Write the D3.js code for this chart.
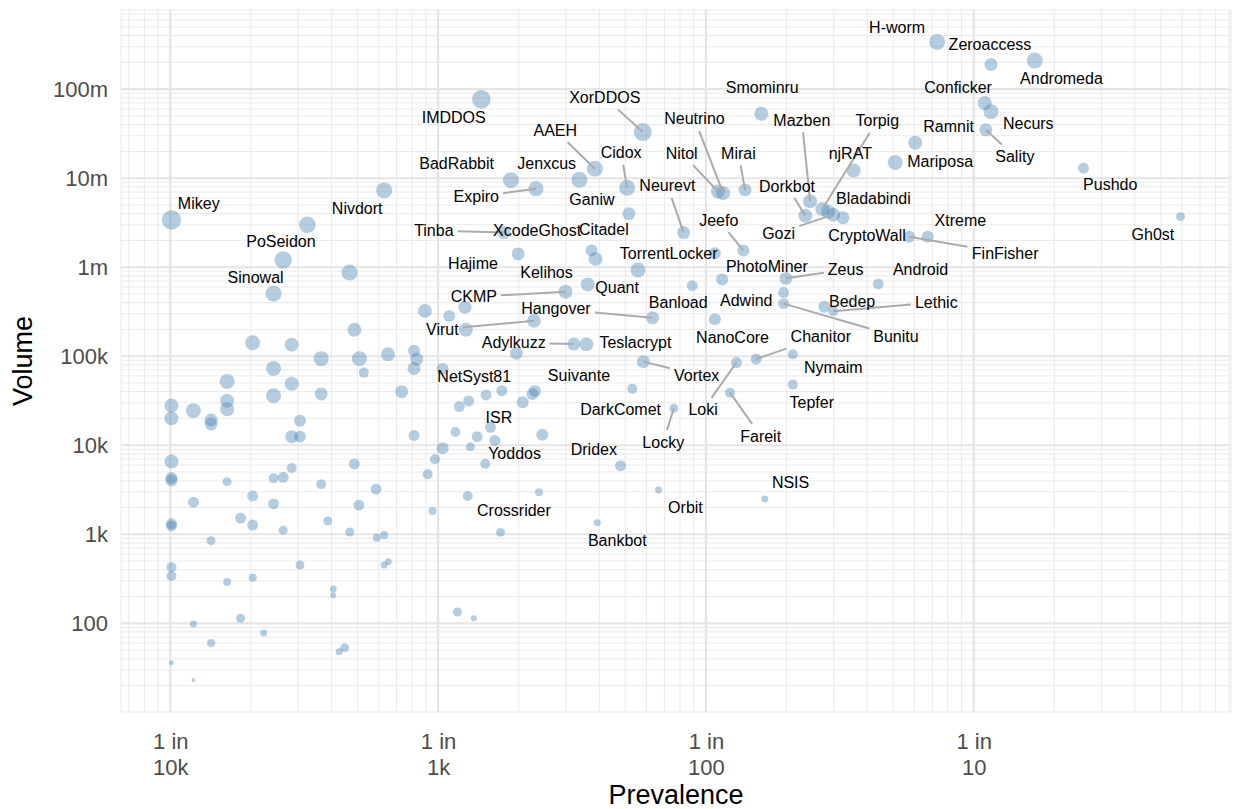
<!DOCTYPE html>
<html><head><meta charset="utf-8">
<script src="https://cdn.jsdelivr.net/npm/d3@7"></script>
<style>
body{margin:0;background:#fff;}
text{font-family:"Liberation Sans", Arial, Helvetica, sans-serif;}
</style>
</head><body>
<svg id="chart" width="1233" height="809"></svg>
<script>
// ---------- DATA ----------
const family = [
"H-worm","Zeroaccess","Andromeda","Conficker","Necurs","Sality","Ramnit","Mariposa","Pushdo","Gh0st",
"Xtreme","FinFisher","CryptoWall","njRAT","Smominru","XorDDOS","IMDDOS","AAEH","Cidox","Jenxcus",
"BadRabbit","Expiro","Nivdort","Mikey","","PoSeidon","","Sinowal","Tinba","Neurevt",
"Ganiw","Neutrino","Nitol","Mirai","Mazben","Dorkbot","Torpig","Bladabindi","Gozi","Jeefo",
"","XcodeGhost","Citadel","Kelihos","TorrentLocker","Quant","Banload","PhotoMiner","CKMP","Zeus",
"Adwind","Bunitu","Bedep","Lethic","Android","Hangover","Virut","NanoCore","Chanitor","Adylkuzz",
"Teslacrypt","","Nymaim","Vortex","Loki","DarkComet","Suivante","","","",
"","Tepfer","Fareit","Locky","ISR","","","Yoddos","Dridex","Crossrider",
"Orbit","NSIS","Bankbot","","NetSyst81","Hajime","","","",""
];
const prevalence = [
0.073,0.116,0.169,0.110,0.116,0.111,0.0605,0.0509,0.257,0.592,
0.0673,0.0574,0.0325,0.0356,0.0161,0.00581,0.00145,0.00385,0.00508,0.00337,
0.00187,0.00232,0.000629,0.000101,0.000325,0.000264,0.000467,0.000243,0.00176,0.00826,
0.00516,0.0116,0.0111,0.0140,0.0245,0.0235,0.0272,0.0286,0.0299,0.0138,
0.0108,0.00199,0.00374,0.00387,0.00558,0.00362,0.00889,0.0115,0.00299,0.0199,
0.0195,0.0195,0.0277,0.0299,0.0440,0.00632,0.00228,0.0108,0.0154,0.00321,
0.00358,0.00196,0.0211,0.00584,0.0130,0.00531,0.00230,0.00225,0.00173,0.00151,
0.00207,0.0211,0.0123,0.00759,0.00157,0.00245,0.00163,0.00150,0.0048,0.00238,
0.00665,0.0166,0.00393,0.00171,0.00104,0.00126,0.000893,0.00110,0.00127,0.000487,
0.000203,0.000284,0.000366,0.000508,0.000650,0.000813,0.000832,0.000813,0.000528,0.000243,
0.000284,0.000163,0.000243,0.000366,0.000731,0.000101,0.000122,0.000163,0.000163,0.000101,
0.000142,0.000142,0.000305,0.000284,0.000305,0.000813,0.00130,0.00120,0.00116,0.00140,
0.00132,0.00104,0.000973,0.000101,0.000487,0.000284,0.000914,0.000101,0.000101,0.000163,
0.000243,0.000264,0.000366,0.000122,0.000203,0.000243,0.000587,0.000506,0.00129,0.000953,
0.000101,0.000101,0.000183,0.000203,0.000387,0.000264,0.000468,0.000590,0.000629,0.000142,
0.000101,0.000101,0.000305,0.000163,0.000203,0.000629,0.000652,0.000406,0.000406,0.00118,
0.00136,0.000122,0.000183,0.000223,0.000142,0.000448,0.000427,0.000101,0.000122
];
const volume = [
3.4e8,1.9e8,2.1e8,7.0e7,5.6e7,3.5e7,2.5e7,1.5e7,1.3e7,3.7e6,
2.2e6,2.2e6,3.6e6,1.22e7,5.3e7,3.3e7,7.7e7,1.28e7,7.8e6,9.6e6,
9.5e6,7.6e6,7.3e6,3.4e6,3.0e6,1.21e6,8.7e5,5.05e5,2.45e6,2.45e6,
4.0e6,6.8e6,7.1e6,7.4e6,5.5e6,3.8e6,4.5e6,4.2e6,3.9e6,1.54e6,
1.44e6,1.41e6,1.54e6,1.24e6,9.3e5,6.4e5,6.2e5,7.3e5,5.3e5,7.5e5,
5.2e5,3.9e5,3.6e5,3.2e5,6.5e5,2.7e5,2.5e5,2.6e5,9.3e4,1.37e5,
1.36e5,1.08e5,1.05e5,8.7e4,8.5e4,4.3e4,4.07e4,3.77e4,4.1e4,3.67e4,
3.04e4,4.8e4,3.9e4,2.6e4,1.59e4,1.31e4,1.13e4,6.2e3,5.9e3,2.96e3,
3.15e3,2.49e3,1.35e3,1.05e3,7.2e4,3.56e5,3.23e5,2.84e5,1.98e5,1.98e5,
1.42e5,1.35e5,9.4e4,9.4e4,1.05e5,1.15e5,9.3e4,7.3e4,6.55e4,7.3e4,
4.9e4,5.2e4,3.6e4,3.77e4,4.0e4,2.79e4,2.45e4,3.17e4,2.54e4,2.01e4,
1.92e4,1.73e4,1.88e4,1.25e4,1.25e4,1.29e4,3.15e4,2.72e4,1.41e4,1.25e4,
9.6e3,9.25e3,6.97e3,6.55e3,6.17e3,5.56e3,4.72e3,4.3e3,4.02e3,3.9e3,
4.26e3,4.37e3,3.65e3,2.29e3,2.69e3,2.19e3,3.21e3,2.12e3,2.69e3,1.83e3,
1.31e3,1.24e3,1.52e3,1.27e3,1.41e3,1.11e3,1.06e3,916,982,847,
426,340,452,291,325,452,492,243,206,134,
114,98,114,78,60,53,48,36,23
];
const weight = [
64,42,64,49,56,42,49,56,30,20,
36,36,42,49,49,81,86,64,64,64,
64,56,64,94,69,76,64,64,42,42,
42,49,49,42,49,49,49,49,49,36,
36,42,36,49,56,49,30,36,49,42,
30,30,36,25,30,42,49,36,30,42,
49,42,25,42,30,25,36,36,30,30,
36,25,25,20,30,36,30,25,30,16,
12,12,12,20,36,42,49,36,49,49,
56,49,56,56,49,36,42,42,25,56,
49,56,56,42,42,49,56,49,49,49,
42,42,36,42,36,30,30,30,25,30,
20,36,25,49,30,25,25,36,36,20,
25,30,25,30,30,30,30,30,25,16,
30,30,30,30,20,20,20,16,16,20,
25,25,20,16,16,12,12,12,9,20,
9,12,20,12,16,20,12,6,4
];
const xTickValues = [1e-4, 1e-3, 1e-2, 1e-1];
const yTickValues = [1e2, 1e3, 1e4, 1e5, 1e6, 1e7, 1e8];

// ---------- LAYOUT (label nudges in px relative to point, segment flag) ----------
const labelLayout = {
"H-worm":[-40,-15,0],"Zeroaccess":[-1,-19.7,0],"Andromeda":[26.7,17.7,0],"Conficker":[-26.7,-16,0],
"Necurs":[37.3,11.3,0],"Ramnit":[33.3,-16.6,0],"Sality":[29,26.7,1],"Mariposa":[45,-1.3,0],
"Pushdo":[26.7,16.7,0],"Gh0st":[-27.6,17.3,0],"Xtreme":[32.7,-16,0],"FinFisher":[96,16.6,1],
"CryptoWall":[24,17.7,0],"Bladabindi":[45.3,-13.7,0],"Gozi":[-54.7,18.3,1],"Torpig":[55,-88.3,1],
"njRAT":[-3.3,-17.4,0],"Mazben":[-8.3,-81,1],"Dorkbot":[-18.3,-29.3,1],"Smominru":[1,-26.4,0],
"Mirai":[-6.6,-36.7,1],"Nitol":[-36.4,-38.4,1],"Neutrino":[-28.7,-74.3,1],"Neurevt":[-16.3,-46.7,1],
"Jeefo":[-24.6,-30.4,1],"XorDDOS":[-38,-34.7,1],"AAEH":[-39.6,-38.4,1],"Cidox":[-6,-35,1],
"Jenxcus":[-32.7,-16.7,0],"Ganiw":[-37,-14.6,0],"Citadel":[12.3,-20.7,0],"Kelihos":[-49,13.3,0],
"XcodeGhost":[19,-23.3,0],"Hajime":[8,-44,0],"Tinba":[-70,-2,1],"Expiro":[-59.7,8,1],
"BadRabbit":[-54.3,-17,0],"IMDDOS":[-27.6,18,0],"Mikey":[27.3,-16.6,0],"Nivdort":[-27,18,0],
"PoSeidon":[-2.3,-18.7,0],"Sinowal":[-18,-16,0],"TorrentLocker":[30.6,-16.7,0],"PhotoMiner":[44.7,-12.6,0],
"Zeus":[59.7,-9,1],"Android":[42.3,-14.7,0],"Quant":[29.4,3.4,0],"Banload":[-14,16.7,0],
"CKMP":[-91.7,5,1],"Adwind":[-37.3,7.7,0],"Bunitu":[112.4,32.7,1],"Bedep":[27.7,-5,0],
"Lethic":[103,-9,1],"Hangover":[-96.6,-9,1],"Virut":[-91.6,8.3,1],"NanoCore":[17.7,18,0],
"Chanitor":[64.7,-22.3,1],"Adylkuzz":[-60,-1.7,1],"Teslacrypt":[49,-2,0],"Nymaim":[40.6,13.4,0],
"Vortex":[53.3,13.3,1],"Loki":[-33.3,47.3,1],"Suivante":[44,-15.3,0],"NetSyst81":[31.6,7.7,0],
"Tepfer":[19,18,0],"Fareit":[30.7,43.3,1],"Locky":[-10.6,34,1],"DarkComet":[-11.7,21,0],
"ISR":[8.3,-9.6,0],"Dridex":[-26.7,-16.4,0],"Yoddos":[29.3,-10.7,0],"Crossrider":[-25,18.4,0],
"Orbit":[27,17.3,0],"NSIS":[25.7,-17,0],"Bankbot":[20,17.6,0]
};

// ---------- CHART ----------
const W = 1233, H = 809;
const panel = {left:121, right:1231, top:10, bottom:712};
const data = prevalence.map((p,i)=>({name:family[i]||"", p:p, v:volume[i], w:weight[i]}));

function expandedLog(vals){
  const e = d3.extent(vals, d=>Math.log10(d));
  const pad = (e[1]-e[0])*0.05;
  return [Math.pow(10,e[0]-pad), Math.pow(10,e[1]+pad)];
}
const x = d3.scaleLog().domain(expandedLog(prevalence)).range([panel.left, panel.right]);
const y = d3.scaleLog().domain(expandedLog(volume)).range([panel.bottom, panel.top]);
const r = d3.scaleSqrt().domain([0,100]).range([0,10]);

const svg = d3.select("#chart");
svg.append("rect").attr("width",W).attr("height",H).attr("fill","#fff");

const grid = svg.append("g");
function minorVals(scale){
  const [a,b] = scale.domain();
  const lo=Math.min(a,b), hi=Math.max(a,b);
  const out=[];
  for(let k=Math.floor(Math.log10(lo))-1;k<=Math.ceil(Math.log10(hi));k++){
    for(let m=2;m<=9;m++){const v=m*Math.pow(10,k); if(v>=lo&&v<=hi) out.push(v);}
  }
  return out;
}
grid.selectAll(".xminor").data(minorVals(x)).join("line")
  .attr("x1",d=>x(d)).attr("x2",d=>x(d)).attr("y1",panel.top).attr("y2",panel.bottom)
  .attr("stroke","#ebebeb").attr("stroke-width",1.1);
grid.selectAll(".yminor").data(minorVals(y)).join("line")
  .attr("y1",d=>y(d)).attr("y2",d=>y(d)).attr("x1",panel.left).attr("x2",panel.right)
  .attr("stroke","#ebebeb").attr("stroke-width",1.1);
grid.append("rect").attr("x",panel.left).attr("y",panel.top)
  .attr("width",panel.right-panel.left).attr("height",panel.bottom-panel.top)
  .attr("fill","none").attr("stroke","#ebebeb").attr("stroke-width",1.1);
grid.selectAll(".xmajor").data(xTickValues).join("line")
  .attr("x1",d=>x(d)).attr("x2",d=>x(d)).attr("y1",panel.top).attr("y2",panel.bottom)
  .attr("stroke","#e5e5e5").attr("stroke-width",2.2);
grid.selectAll(".ymajor").data(yTickValues).join("line")
  .attr("y1",d=>y(d)).attr("y2",d=>y(d)).attr("x1",panel.left).attr("x2",panel.right)
  .attr("stroke","#e5e5e5").attr("stroke-width",2.2);

// axes (labels only, ggplot minimal style)
const fmtCount = v => v>=1e6 ? (v/1e6)+"m" : v>=1e3 ? (v/1e3)+"k" : String(v);
const yAxis = d3.axisLeft(y).tickValues(yTickValues).tickFormat(fmtCount).tickSize(0).tickPadding(13);
const gy = svg.append("g").attr("transform",`translate(${panel.left},0)`).call(yAxis);
gy.select(".domain").remove();
gy.selectAll("text").attr("font-size",22).attr("fill","#4d4d4d")
  .style("font-family",'"Liberation Sans", Arial, sans-serif');

const xAxis = d3.axisBottom(x).tickValues(xTickValues).tickFormat(()=>"").tickSize(0);
const gx = svg.append("g").attr("transform",`translate(0,${panel.bottom})`).call(xAxis);
gx.select(".domain").remove();
gx.selectAll(".tick").each(function(d){
  const t = d3.select(this).select("text").attr("fill","#4d4d4d").attr("font-size",22)
     .style("font-family",'"Liberation Sans", Arial, sans-serif').attr("y",0).attr("dy",null);
  t.append("tspan").attr("x",0).attr("y",37).text("1 in");
  t.append("tspan").attr("x",0).attr("y",63).text(fmtCount(Math.round(1/d)));
});

svg.append("text").attr("x",(panel.left+panel.right)/2).attr("y",804)
  .attr("text-anchor","middle").attr("font-size",27).attr("fill","#000").text("Prevalence");
svg.append("text").attr("transform",`translate(32,${(panel.top+panel.bottom)/2}) rotate(-90)`)
  .attr("text-anchor","middle").attr("font-size",27).attr("fill","#000").text("Volume");

// points
svg.append("g").selectAll("circle").data(data).join("circle")
  .attr("cx",d=>x(d.p)).attr("cy",d=>y(d.v)).attr("r",d=>r(d.w))
  .attr("fill","#4682b4").attr("fill-opacity",0.4);

// labels with repel-like segments
const labeled = data.filter(d=>d.name && labelLayout[d.name]);
const segG = svg.append("g");
const txtG = svg.append("g");
labeled.forEach(d=>{
  const [dx,dy,seg] = labelLayout[d.name];
  const px = x(d.p), py = y(d.v);
  const lx = px+dx, ly = py+dy;
  const t = txtG.append("text").attr("x",lx).attr("y",ly).attr("dy","0.35em")
     .attr("text-anchor","middle").attr("font-size",16).attr("fill","#000").text(d.name);
  if(seg){
    const bb = t.node().getBBox();
    const hw = bb.width/2+4, hh = 9+3;
    const vx = lx-px, vy = ly-py;
    const s = Math.min(Math.abs(vx)>0?hw/Math.abs(vx):Infinity, Math.abs(vy)>0?hh/Math.abs(vy):Infinity);
    if(s<1){
      segG.append("line").attr("x1",px).attr("y1",py)
        .attr("x2",lx-vx*s).attr("y2",ly-vy*s)
        .attr("stroke","#ababab").attr("stroke-width",2);
    }
  }
});
</script>
</body></html>
